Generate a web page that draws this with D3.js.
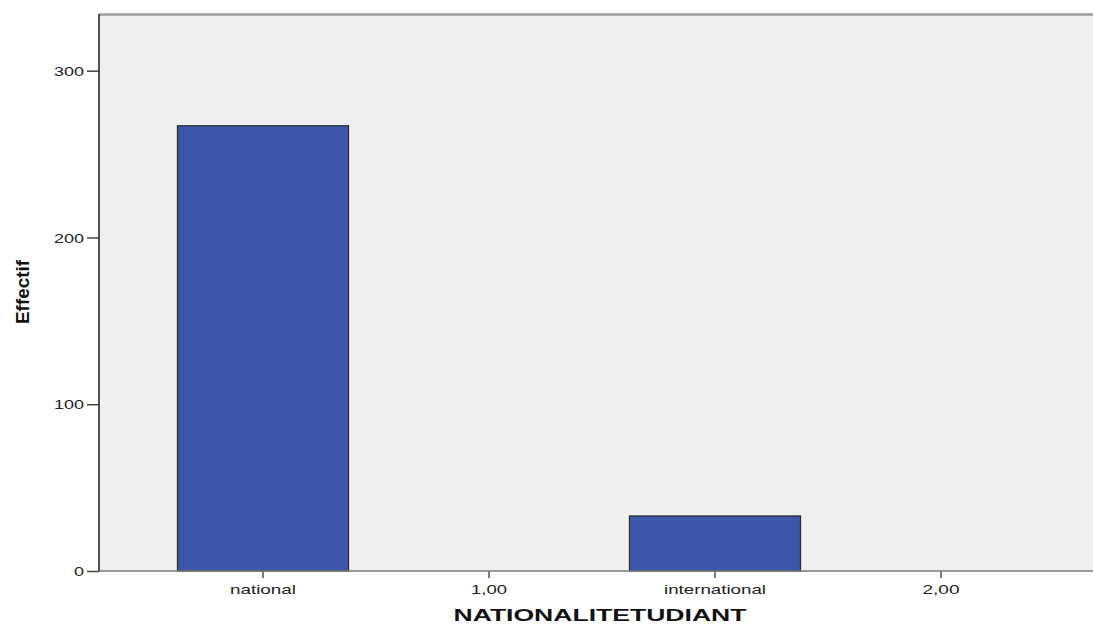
<!DOCTYPE html>
<html>
<head>
<meta charset="utf-8">
<script src="https://cdn.jsdelivr.net/npm/d3@7"></script>
<style>
  html, body { margin: 0; padding: 0; background: #ffffff; }
  svg { display: block; }
</style>
</head>
<body>
<script>
// ---- data ----
const categories = ["national", "1,00", "international", "2,00"];
const counts = [267, 0, 33, 0];
const yTicks = [0, 100, 200, 300];
const yMax = 334;
const xTitle = "NATIONALITETUDIANT";
const yTitle = "Effectif";

// ---- layout ----
const W = 1093, H = 628;
const plot = { left: 99, top: 14, right: 1105, bottom: 571 };

const svg = d3.select("body").append("svg")
  .attr("width", W).attr("height", H);

const x = d3.scaleBand()
  .domain(categories)
  .range([150, 1054])
  .paddingInner(0.243)
  .paddingOuter(0.1215);

const y = d3.scaleLinear()
  .domain([0, yMax])
  .range([plot.bottom, plot.top]);

// plot background
svg.append("rect")
  .attr("x", plot.left).attr("y", plot.top)
  .attr("width", plot.right - plot.left)
  .attr("height", plot.bottom - plot.top)
  .attr("fill", "#efefef");

// top border
svg.append("line")
  .attr("x1", plot.left).attr("x2", plot.right)
  .attr("y1", plot.top + 0.5).attr("y2", plot.top + 0.5)
  .attr("stroke", "#9a9a9a").attr("stroke-width", 2.5);

// bars
const data = categories.map((c, i) => ({ c, v: counts[i] }));
svg.append("g").selectAll("rect")
  .data(data.filter(d => d.v > 0))
  .join("rect")
  .attr("x", d => x(d.c))
  .attr("y", d => y(d.v))
  .attr("width", x.bandwidth())
  .attr("height", d => y(0) - y(d.v))
  .attr("fill", "#3c56a8")
  .attr("stroke", "#2a2a2a")
  .attr("stroke-width", 1.2);

// x axis
const xAxis = svg.append("g")
  .attr("transform", `translate(0,${plot.bottom})`)
  .call(d3.axisBottom(x).tickSize(7).tickSizeOuter(0));
xAxis.select(".domain").remove();
svg.append("line")
  .attr("x1", plot.left).attr("x2", plot.right)
  .attr("y1", plot.bottom).attr("y2", plot.bottom)
  .attr("stroke", "#7a7a7a").attr("stroke-width", 1.5);
xAxis.selectAll(".tick line").attr("stroke", "#333").attr("stroke-width", 1.3);
const xLabelWidths = { "national": 66, "1,00": 36, "international": 102, "2,00": 37 };
xAxis.selectAll(".tick text")
  .attr("y", 0).attr("dy", null)
  .attr("transform", "translate(0,23)")
  .attr("font-family", "Arial, 'Liberation Sans', sans-serif")
  .attr("font-size", 13)
  .attr("fill", "#222")
  .attr("textLength", d => xLabelWidths[d])
  .attr("lengthAdjust", "spacingAndGlyphs");

// y axis
const yAxis = svg.append("g")
  .attr("transform", `translate(${plot.left},0)`)
  .call(d3.axisLeft(y).tickValues(yTicks).tickSize(12).tickSizeOuter(0).tickPadding(3));
yAxis.select(".domain").remove();
svg.append("line")
  .attr("x1", plot.left).attr("x2", plot.left)
  .attr("y1", plot.top).attr("y2", plot.bottom)
  .attr("stroke", "#2a2a2a").attr("stroke-width", 1.6);
yAxis.selectAll(".tick line").attr("stroke", "#444").attr("stroke-width", 1.5);
yAxis.selectAll(".tick text")
  .attr("font-family", "Arial, 'Liberation Sans', sans-serif")
  .attr("font-size", 13)
  .attr("fill", "#222")
  .attr("dy", "0.36em")
  .attr("textLength", d => String(d).length * 10)
  .attr("lengthAdjust", "spacingAndGlyphs");

// axis titles
svg.append("text")
  .attr("x", 600).attr("y", 621)
  .attr("text-anchor", "middle")
  .attr("font-family", "Arial, 'Liberation Sans', sans-serif")
  .attr("font-weight", "bold")
  .attr("font-size", 16)
  .attr("fill", "#111")
  .attr("textLength", 293)
  .attr("lengthAdjust", "spacingAndGlyphs")
  .text(xTitle);

svg.append("text")
  .attr("transform", "translate(29,292) rotate(-90)")
  .attr("text-anchor", "middle")
  .attr("font-family", "Arial, 'Liberation Sans', sans-serif")
  .attr("font-weight", "bold")
  .attr("font-size", 19)
  .attr("fill", "#111")
  .attr("textLength", 64)
  .attr("lengthAdjust", "spacingAndGlyphs")
  .text(yTitle);
</script>
</body>
</html>
